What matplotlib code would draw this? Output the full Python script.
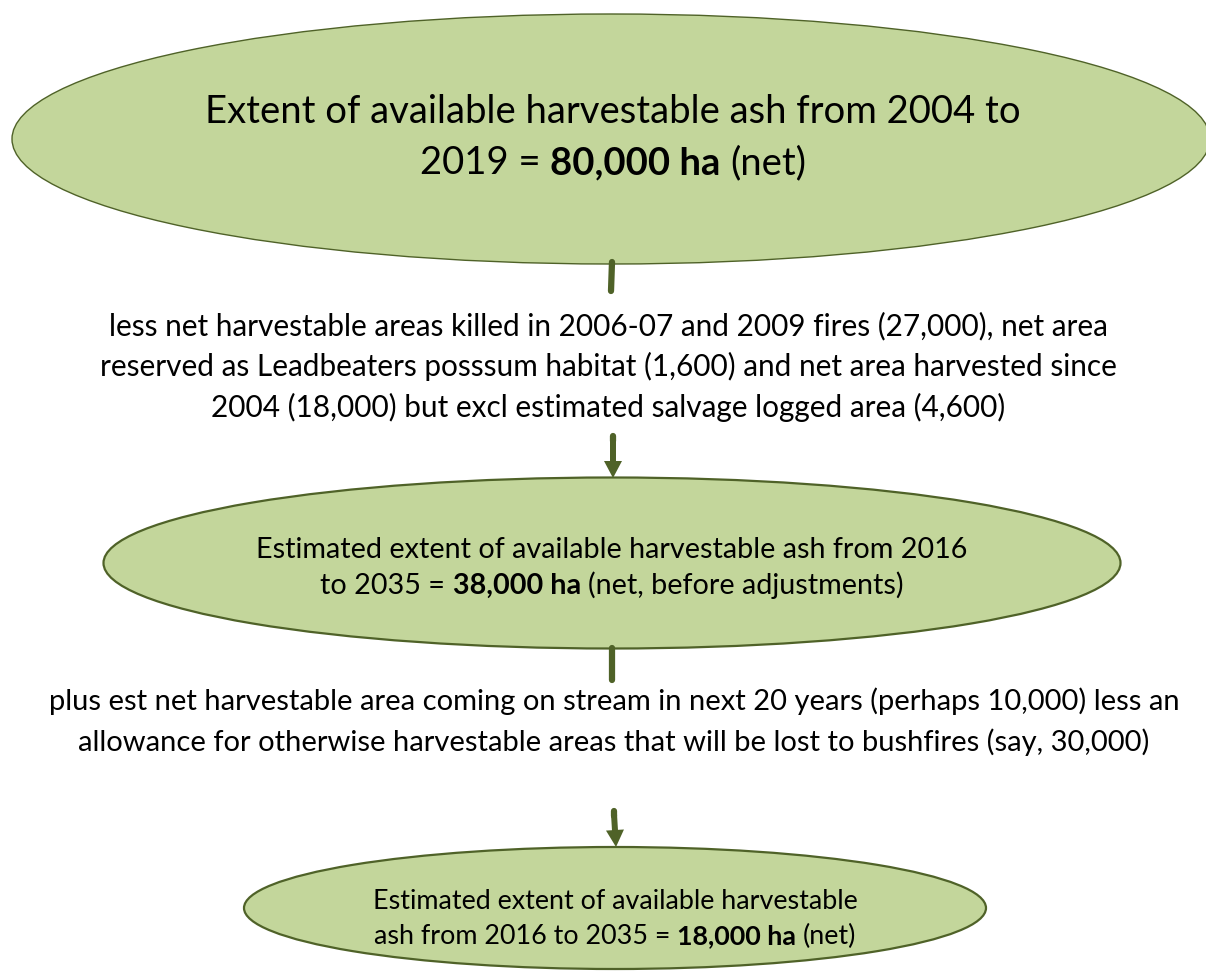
import matplotlib.pyplot as plt
from matplotlib.patches import Ellipse, FancyArrow

plt.rcParams['font.family'] = ['Lato', 'DejaVu Sans']

#==================
# Flowchart text
#==================
N, B = 'normal', 'bold'

top_lines = [[("Extent of available harvestable ash from 2004 to", N)],
             [("2019 =", N), ("80,000 ha", B), ("(net)", N)]]
less_lines = [[("less net harvestable areas killed in 2006-07 and 2009 fires (27,000), net area", N)],
              [("reserved as Leadbeaters posssum habitat (1,600) and net area harvested since", N)],
              [("2004 (18,000) but excl estimated salvage logged area (4,600)", N)]]
mid_lines = [[("Estimated extent of available harvestable ash from 2016", N)],
             [("to 2035 =", N), ("38,000 ha", B), ("(net, before adjustments)", N)]]
plus_lines = [[("plus est net harvestable area coming on stream in next 20 years (perhaps 10,000) less an", N)],
              [("allowance for otherwise harvestable areas that will be lost to bushfires (say, 30,000)", N)]]
end_lines = [[("Estimated extent of available harvestable", N)],
             [("ash from 2016 to 2035 =", N), ("18,000 ha", B), ("(net)", N)]]

fill = '#C3D69B'
edge = '#4F6228'

fig = plt.figure(figsize=(12.06, 9.8), dpi=100)
ax = fig.add_axes([0, 0, 1, 1])
ax.set_xlim(0, 1206)
ax.set_ylim(980, 0)
ax.axis('off')
renderer = fig.canvas.get_renderer()

#-------------
# Ellipses
#-------------
for (cx, cy, w, h, lw) in [(611, 139, 1198, 250, 1.0),
                           (612, 563, 1017, 171, 1.6),
                           (615, 908, 742, 122, 1.6)]:
    ax.add_patch(Ellipse((cx, cy), w, h, facecolor=fill, edgecolor=edge, linewidth=lw, zorder=1))

#-------------
# Connectors
#-------------
ax.plot([612, 611], [262, 291], color=edge, linewidth=4.5, solid_capstyle='round', zorder=2)
ax.plot([612, 612], [648, 680], color=edge, linewidth=4.5, solid_capstyle='round', zorder=2)
for (x0, y0, x1, y1) in [(613, 436, 613, 478), (614, 811, 616, 847)]:
    ax.plot([x0, x0], [y0, y0 + 5], color=edge, linewidth=4.5, solid_capstyle='round', zorder=2)
    ax.add_patch(FancyArrow(x0, y0 + 3, x1 - x0, y1 - y0 - 3, width=6, head_width=18, head_length=17,
                            length_includes_head=True, color=edge, linewidth=0, zorder=2))


#------------------------
# Text with bold pieces
#------------------------
def seg_width(text, weight, size):
    t = ax.text(0, 0, text, fontsize=size, fontweight=weight)
    w = t.get_window_extent(renderer).width
    t.remove()
    return w


def line_width(parts, size):
    sp = seg_width('x x', N, size) - seg_width('xx', N, size)
    return sum(seg_width(s, wt, size) for s, wt in parts) + sp * (len(parts) - 1)


def draw_block(lines, baselines, target, cx=610):
    base = 20
    widest = max(line_width(p, base) for p in lines)
    size = base * target / widest
    sp = seg_width('x x', N, size) - seg_width('xx', N, size)
    for parts, yb in zip(lines, baselines):
        x = cx - line_width(parts, size) / 2
        for s, wt in parts:
            ax.text(x, yb, s, fontsize=size, fontweight=wt, ha='left', va='baseline', color='black', zorder=3)
            x += seg_width(s, wt, size) + sp


draw_block(top_lines, [123, 174], 817, cx=613)
draw_block(less_lines, [335, 376, 417], 1020, cx=608)
draw_block(mid_lines, [558, 594], 712, cx=612)
draw_block(plus_lines, [710, 751], 1130, cx=614)
draw_block(end_lines, [909, 944], 486, cx=615)

fig.savefig('out.png', dpi=100)
